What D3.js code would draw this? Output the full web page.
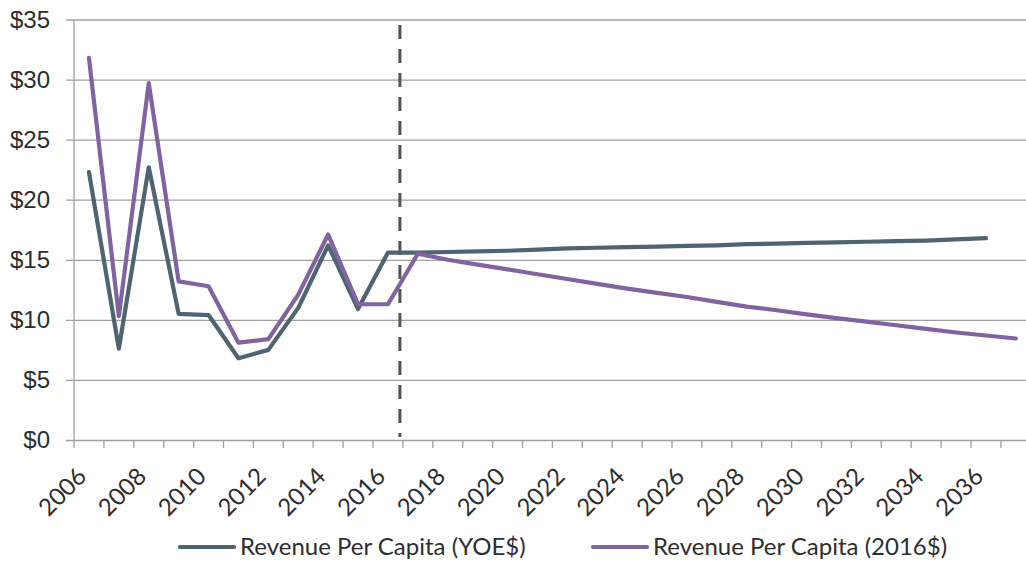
<!DOCTYPE html>
<html>
<head>
<meta charset="utf-8">
<script src="https://cdn.jsdelivr.net/npm/d3@7"></script>
<style>
  html, body { margin: 0; padding: 0; background: #fff; }
  svg { display: block; font-family: Lato, "Noto Sans", sans-serif; }
</style>
</head>
<body>
<svg id="chart" width="1026" height="563"></svg>
<script>
// Fiscal years shown on the category axis
const years = d3.range(2006, 2038);

// Revenue per capita, year-of-expenditure dollars (ends 2036)
const revenueYOE = [
  22.3, 7.6, 22.7, 10.5, 10.4, 6.8, 7.5, 11.0, 16.2, 10.9,
  15.6, 15.6, 15.65, 15.7, 15.75, 15.85, 15.95, 16.0, 16.05, 16.1,
  16.15, 16.2, 16.3, 16.35, 16.4, 16.45, 16.5, 16.55, 16.6, 16.7,
  16.8
];

// Revenue per capita, constant 2016 dollars (ends 2037)
const revenue2016 = [
  31.8, 10.3, 29.7, 13.2, 12.8, 8.1, 8.4, 12.1, 17.1, 11.3,
  11.3, 15.5, 15.0, 14.6, 14.2, 13.8, 13.4, 13.0, 12.6, 12.25,
  11.9, 11.5, 11.1, 10.8, 10.45, 10.15, 9.85, 9.55, 9.25, 8.95,
  8.7, 8.45
];

const yTicks = [0, 5, 10, 15, 20, 25, 30, 35];
const xLabelYears = d3.range(2006, 2037, 2);
const forecastStart = 2016.4;   // split between actuals and forecast

const seriesNames = ["Revenue Per Capita (YOE$)", "Revenue Per Capita (2016$)"];
const seriesColors = ["#4e6470", "#8064a2"];

const svg = d3.select("#chart");
const plotLeft = 74, plotTop = 19.5, plotBottom = 440, step = 29.9;

const x = d3.scaleLinear()
  .domain([2005.5, 2005.5 + years.length])
  .range([plotLeft, plotLeft + years.length * step]);
const y = d3.scaleLinear().domain([0, 35]).range([plotBottom, plotTop]);

const gridColor = "#a0a0a0";
const textColor = "#2e2e2e";
const fontSize = "24px";

// horizontal gridlines with small outer ticks
const yAxis = d3.axisLeft(y)
  .tickValues(yTicks)
  .tickSize(-(1026 - plotLeft))
  .tickPadding(24)
  .tickFormat(d => "$" + d);
const gy = svg.append("g").attr("transform", `translate(${plotLeft},0)`).call(yAxis);
gy.select(".domain").remove();
gy.selectAll(".tick line")
  .attr("x1", -8)
  .attr("stroke", gridColor).attr("stroke-width", 1.3);
gy.selectAll(".tick text")
  .attr("fill", textColor).style("font-size", fontSize);

// vertical axis line
svg.append("line")
  .attr("x1", plotLeft).attr("x2", plotLeft)
  .attr("y1", y(35)).attr("y2", plotBottom)
  .attr("stroke", gridColor).attr("stroke-width", 1.3);

// category tick marks between years
const gx = svg.append("g").attr("transform", `translate(0,${plotBottom})`);
gx.selectAll("line.tk")
  .data(years.concat([2038]))
  .join("line")
  .attr("class", "tk")
  .attr("x1", d => x(d - 0.5)).attr("x2", d => x(d - 0.5))
  .attr("y1", 0).attr("y2", 8)
  .attr("stroke", gridColor).attr("stroke-width", 1.3);

// rotated year labels
gx.selectAll("text.yr")
  .data(xLabelYears)
  .join("text")
  .attr("class", "yr")
  .attr("text-anchor", "end")
  .attr("transform", d => `translate(${x(d) - 1},${38}) rotate(-45)`)
  .attr("fill", textColor)
  .style("font-size", fontSize)
  .text(d => d);

// forecast divider
svg.append("line")
  .attr("x1", x(forecastStart)).attr("x2", x(forecastStart))
  .attr("y1", 25).attr("y2", 437)
  .attr("stroke", "#555").attr("stroke-width", 3)
  .attr("stroke-dasharray", "14,10");

const line = d3.line()
  .x(d => x(d.year))
  .y(d => y(d.value));

const series = [revenueYOE, revenue2016].map((vals, i) => ({
  name: seriesNames[i],
  color: seriesColors[i],
  points: vals.map((v, j) => ({ year: years[j], value: v }))
}));

svg.append("g").selectAll("path")
  .data(series)
  .join("path")
  .attr("d", d => line(d.points))
  .attr("fill", "none")
  .attr("stroke", d => d.color)
  .attr("stroke-width", 4.2)
  .attr("stroke-linejoin", "round")
  .attr("stroke-linecap", "round");

// legend
const legendPos = [180, 593];
const legend = svg.append("g").attr("transform", "translate(0,547)");
series.forEach((s, i) => {
  const g = legend.append("g").attr("transform", `translate(${legendPos[i]},0)`);
  g.append("line")
    .attr("x1", 0).attr("x2", 54)
    .attr("stroke", s.color).attr("stroke-width", 4.2)
    .attr("stroke-linecap", "round");
  g.append("text")
    .attr("x", 60).attr("dy", "0.35em")
    .attr("fill", textColor)
    .style("font-size", fontSize)
    .text(s.name);
});
</script>
</body>
</html>
